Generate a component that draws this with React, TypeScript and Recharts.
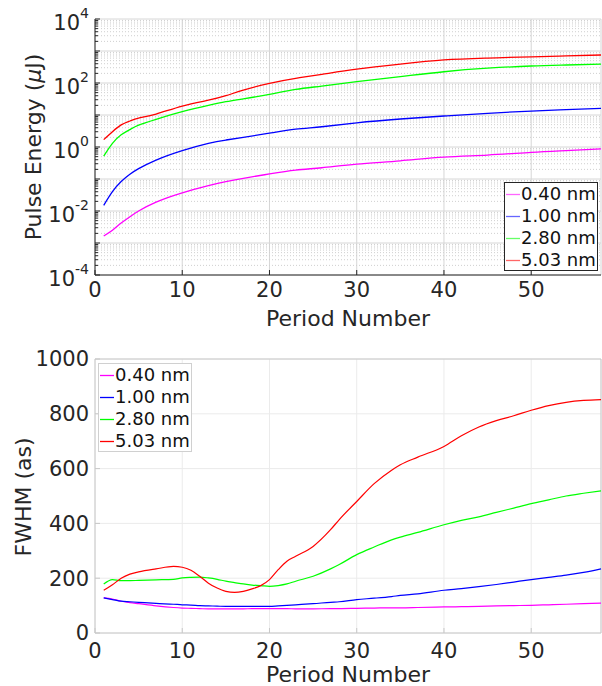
import React from "react";
import { LineChart, Line, XAxis, YAxis, CartesianGrid, Legend, ReferenceLine } from "recharts";

// pulse energy (uJ) vs period number
const periodsTop = [1, 2, 3, 4, 5, 7, 10, 13, 15, 17, 20, 23, 26, 30, 35, 40, 45, 50, 54, 58];
const energy040 = [0.00166, 0.0025, 0.0042, 0.0066, 0.01, 0.019, 0.037, 0.062, 0.083, 0.105, 0.144, 0.19, 0.225, 0.29, 0.37, 0.48, 0.56, 0.68, 0.77, 0.87];
const energy100 = [0.015, 0.04, 0.083, 0.14, 0.21, 0.39, 0.77, 1.3, 1.65, 2.0, 2.7, 3.6, 4.3, 5.7, 7.5, 9.3, 11.3, 13.3, 14.7, 16];
const energy280 = [0.52, 1.3, 2.4, 3.5, 4.8, 7.3, 12.7, 20, 26, 32, 44, 63, 80, 110, 158, 225, 290, 340, 365, 390];
const energy503 = [1.7, 3.0, 4.9, 6.5, 8, 10.7, 19, 29, 40, 60, 98, 140, 186, 270, 390, 525, 600, 660, 700, 750];

// FWHM (as) vs period number
const periodsBottom = [1, 2, 3, 4, 5, 7, 9, 10, 11, 12, 13, 14, 15, 16, 17, 18, 19, 20, 21, 22, 23, 25, 27, 28, 30, 32, 34, 35, 37, 40, 42, 44, 46, 48, 50, 52, 54, 56, 58];
const fwhm040 = [128, 124, 116, 111, 107, 99, 93, 91, 90, 89, 88, 88, 88, 88, 88, 89, 89, 89, 89, 89, 88, 88, 89, 89, 90, 91, 92, 92, 93, 95, 96, 97, 99, 100, 101, 103, 105, 107, 109];
const fwhm100 = [128, 122, 116, 114, 112, 108, 105, 103, 102, 100, 99, 98, 97, 97, 97, 97, 97, 97, 99, 101, 103, 107, 112, 114, 122, 127, 133, 137, 143, 156, 162, 169, 177, 186, 195, 203, 211, 221, 234];
const fwhm280 = [179, 195, 191, 191, 192, 194, 196, 201, 203, 204, 201, 196, 189, 184, 179, 175, 173, 170, 173, 179, 189, 207, 234, 250, 286, 314, 340, 350, 367, 395, 411, 424, 440, 456, 472, 486, 500, 510, 519];
const fwhm503 = [156, 176, 200, 215, 223, 234, 243, 240, 229, 207, 182, 164, 152, 148, 152, 161, 173, 195, 231, 262, 280, 316, 377, 414, 480, 545, 594, 614, 642, 681, 720, 752, 775, 793, 813, 830, 842, 849, 852];

const seriesNames = ["0.40 nm", "1.00 nm", "2.80 nm", "5.03 nm"];
const seriesColors = ["#ff00ff", "#0000ff", "#00ff00", "#ff0000"];

const xTicks = [0, 10, 20, 30, 40, 50];
const decades = [1e-4, 1e-3, 1e-2, 1e-1, 1, 1e1, 1e2, 1e3, 1e4];
const labeledDecades = [1e-4, 1e-2, 1, 1e2, 1e4];
const minorSteps = [2, 3, 4, 5, 6, 7, 8, 9];
const minorValues = decades.slice(0, -1).flatMap((d) => minorSteps.map((m) => m * d));
const fwhmTicks = [0, 200, 400, 600, 800, 1000];

const topData = periodsTop.map((p, i) => ({
	period: p,
	s040: energy040[i],
	s100: energy100[i],
	s280: energy280[i],
	s503: energy503[i],
}));
const bottomData = periodsBottom.map((p, i) => ({
	period: p,
	s040: fwhm040[i],
	s100: fwhm100[i],
	s280: fwhm280[i],
	s503: fwhm503[i],
}));
const keys = ["s040", "s100", "s280", "s503"];

const FONT = "DejaVu Sans";
const TEXT = "#262626";

function LogTick(props: any) {
	const { x, y, payload } = props;
	const v = payload.value;
	const isDecade = decades.some((d) => Math.abs(v / d - 1) < 1e-6);
	const labeled = labeledDecades.some((d) => Math.abs(v / d - 1) < 1e-6);
	const exp = Math.round(Math.log10(v));
	return (
		<g>
			<line x1={x + 6} x2={x + 6 + (isDecade ? 5 : 3)} y1={y} y2={y} stroke={TEXT} strokeWidth={1} />
			{labeled && (
				<text x={x} y={y + 11} textAnchor='end' fill={TEXT} fontFamily={FONT} fontSize={21}>
					10
					<tspan dy={-12} fontSize={14}>
						{exp}
					</tspan>
				</text>
			)}
		</g>
	);
}

// legend rows come straight from the series lists
function LegendBox({ border, fade }: any) {
	return (
		<div
			style={{
				width: 92,
				height: 87,
				border: `1px solid ${border}`,
				background: "#fff",
				fontFamily: FONT,
				fontSize: 18,
				color: "#111",
			}}
		>
			{seriesNames.map((name, i) => (
				<div key={name} style={{ display: "flex", alignItems: "center", height: 22, lineHeight: "22px" }}>
					<svg width={16} height={22} style={{ display: "block" }}>
						<line x1={1} x2={15} y1={11.5} y2={11.5} stroke={seriesColors[i]} strokeWidth={1.3} strokeOpacity={fade} />
					</svg>
					<span>{name}</span>
				</div>
			))}
		</div>
	);
}

export default function App() {
	return (
		<div style={{ position: "absolute", left: 0, top: 0, width: 602, height: 686, background: "#fff" }}>
			<div style={{ position: "absolute", left: 0, top: 0 }}>
				<LineChart width={602} height={330} data={topData} margin={{ top: 19, right: 1, bottom: 0, left: 0 }}>
					<CartesianGrid horizontalValues={decades} stroke='#d6d6d6' strokeWidth={1} />
					<CartesianGrid horizontalValues={minorValues} vertical={false} stroke='#cfcfcf' strokeDasharray='1 2' />
					<XAxis
						dataKey='period'
						type='number'
						domain={[0, 58]}
						ticks={xTicks}
						interval={0}
						height={55}
						stroke={TEXT}
						tickSize={-5}
						tickMargin={12}
						tick={{ fill: TEXT, fontSize: 21, fontFamily: FONT }}
						label={{ value: "Period Number", position: "insideBottom", offset: 4, fill: TEXT, fontSize: 22, fontFamily: FONT }}
					/>
					<YAxis
						type='number'
						scale='log'
						domain={[1e-4, 1e4]}
						allowDataOverflow
						ticks={[...decades, ...minorValues]}
						interval={0}
						width={95}
						stroke={TEXT}
						tickLine={false}
						tickSize={0}
						tickMargin={6}
						tick={(p: any) => <LogTick {...p} />}
						label={{
							content: () => (
								<text x={41} y={147} transform='rotate(-90, 41, 147)' textAnchor='middle' fill={TEXT} fontFamily={FONT} fontSize={22}>
									Pulse Energy (<tspan fontStyle='italic'>μ</tspan>J)
								</text>
							),
						}}
					/>
					<Legend
						layout='vertical'
						align='center'
						verticalAlign='middle'
						wrapperStyle={{ position: "absolute", left: 504, top: 182, width: 94, height: 89 }}
						content={() => <LegendBox border={TEXT} fade={0.6} />}
					/>
					{keys.map((k, i) => (
						<Line key={k} dataKey={k} name={seriesNames[i]} stroke={seriesColors[i]} strokeWidth={1.3} type='natural' dot={false} isAnimationActive={false} />
					))}
				</LineChart>
			</div>
			<div style={{ position: "absolute", left: 0, top: 330 }}>
				<LineChart width={602} height={356} data={bottomData} margin={{ top: 29, right: 1, bottom: 0, left: 0 }}>
					<CartesianGrid stroke='#ebebeb' strokeWidth={1} />
					<ReferenceLine y={1000} stroke='#c8c8c8' />
					<ReferenceLine x={58} stroke='#c8c8c8' />
					<XAxis
						dataKey='period'
						type='number'
						domain={[0, 58]}
						ticks={xTicks}
						interval={0}
						height={53}
						stroke='#c8c8c8'
						tickSize={-5}
						tickMargin={15}
						tick={{ fill: TEXT, fontSize: 21, fontFamily: FONT }}
						label={{ value: "Period Number", position: "insideBottom", offset: 4, fill: TEXT, fontSize: 22, fontFamily: FONT }}
					/>
					<YAxis
						type='number'
						domain={[0, 1000]}
						ticks={fwhmTicks}
						interval={0}
						width={95}
						stroke='#c8c8c8'
						tickSize={-5}
						tickMargin={11}
						tick={{ fill: TEXT, fontSize: 21, fontFamily: FONT }}
						label={{
							content: () => (
								<text x={31} y={167} transform='rotate(-90, 31, 167)' textAnchor='middle' fill={TEXT} fontFamily={FONT} fontSize={22}>
									FWHM (as)
								</text>
							),
						}}
					/>
					<Legend
						layout='vertical'
						align='center'
						verticalAlign='middle'
						wrapperStyle={{ position: "absolute", left: 98, top: 33, width: 94, height: 87 }}
						content={() => <LegendBox border='#d0d0d0' fade={1} />}
					/>
					{keys.map((k, i) => (
						<Line key={k} dataKey={k} name={seriesNames[i]} stroke={seriesColors[i]} strokeWidth={1.2} type='monotone' dot={false} isAnimationActive={false} />
					))}
				</LineChart>
			</div>
		</div>
	);
}
